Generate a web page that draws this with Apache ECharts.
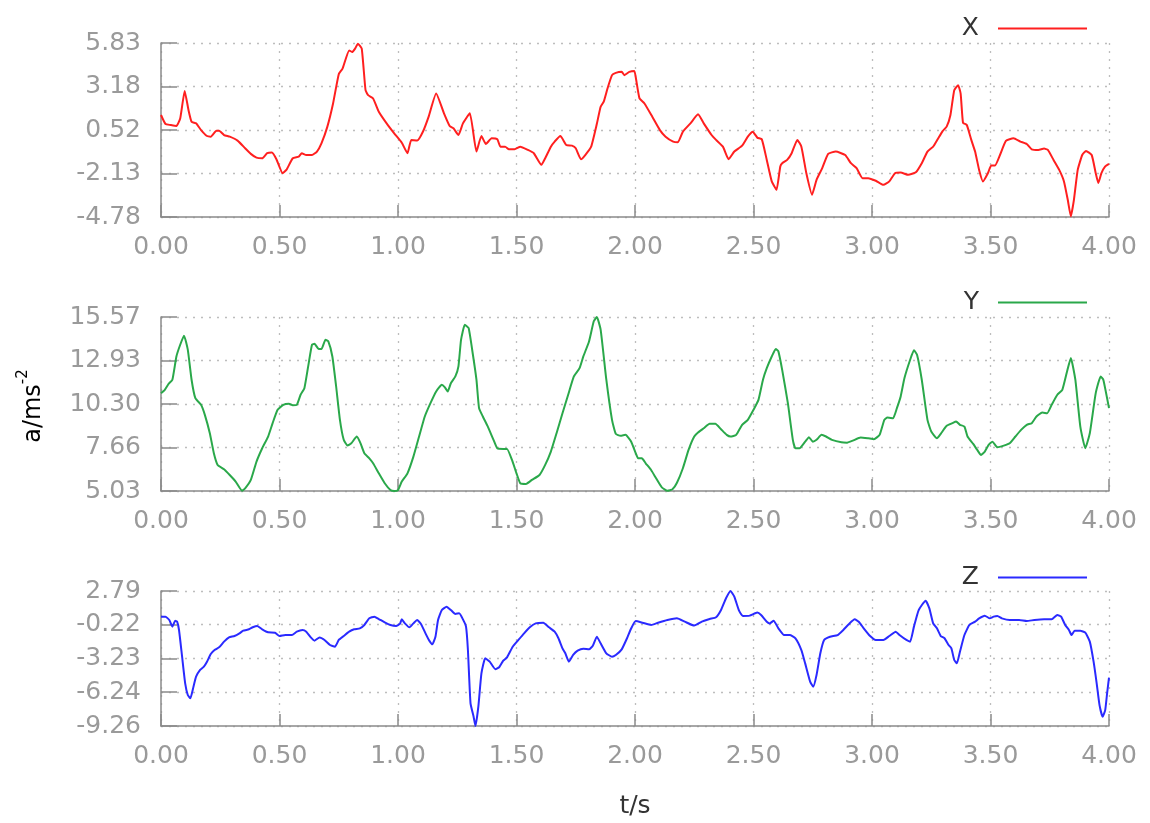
<!DOCTYPE html>
<html>
<head>
<meta charset="utf-8">
<script src="https://cdn.jsdelivr.net/npm/echarts@6/dist/echarts.min.js"></script>
<style>
  html, body { margin: 0; padding: 0; background: #fff; }
  #chart { width: 1150px; height: 823px; }
</style>
</head>
<body>
<div id="chart"></div>
<script>
// Acceleration components over time (t in seconds, a in m/s^2)
const tX = [0, 0.019, 0.04, 0.065, 0.081, 0.10, 0.116, 0.129, 0.148, 0.169, 0.194, 0.21, 0.234, 0.245, 0.266, 0.29, 0.323, 0.355, 0.379, 0.403, 0.427, 0.448, 0.468, 0.487, 0.513, 0.529, 0.556, 0.581, 0.594, 0.613, 0.637, 0.658, 0.677, 0.702, 0.726, 0.75, 0.766, 0.794, 0.806, 0.819, 0.831, 0.847, 0.863, 0.874, 0.895, 0.919, 0.952, 0.984, 1.016, 1.04, 1.056, 1.081, 1.105, 1.129, 1.161, 1.194, 1.218, 1.234, 1.255, 1.274, 1.303, 1.331, 1.352, 1.371, 1.395, 1.419, 1.432, 1.452, 1.468, 1.492, 1.516, 1.548, 1.573, 1.605, 1.621, 1.645, 1.661, 1.685, 1.71, 1.734, 1.75, 1.772, 1.79, 1.815, 1.839, 1.855, 1.868, 1.884, 1.903, 1.919, 1.944, 1.955, 1.976, 1.997, 2.003, 2.019, 2.04, 2.073, 2.105, 2.129, 2.161, 2.181, 2.202, 2.234, 2.266, 2.29, 2.323, 2.342, 2.371, 2.395, 2.419, 2.452, 2.476, 2.497, 2.516, 2.535, 2.556, 2.577, 2.597, 2.613, 2.621, 2.642, 2.661, 2.685, 2.702, 2.723, 2.747, 2.766, 2.79, 2.815, 2.847, 2.887, 2.911, 2.935, 2.96, 2.984, 3.016, 3.048, 3.073, 3.097, 3.121, 3.153, 3.185, 3.21, 3.234, 3.258, 3.277, 3.298, 3.315, 3.331, 3.347, 3.363, 3.374, 3.384, 3.4, 3.419, 3.435, 3.452, 3.468, 3.489, 3.503, 3.519, 3.54, 3.565, 3.597, 3.626, 3.653, 3.674, 3.702, 3.726, 3.742, 3.766, 3.79, 3.81, 3.826, 3.839, 3.852, 3.868, 3.887, 3.903, 3.927, 3.944, 3.955, 3.968, 3.984, 4.0];
const vX = [1.44, 0.89, 0.83, 0.77, 1.23, 2.91, 1.74, 1.03, 0.93, 0.52, 0.16, 0.12, 0.48, 0.48, 0.22, 0.12, -0.12, -0.59, -0.93, -1.16, -1.20, -0.89, -0.85, -1.26, -2.11, -1.91, -1.20, -1.10, -0.89, -1.0, -1.0, -0.79, -0.29, 0.73, 2.14, 3.93, 4.27, 5.38, 5.28, 5.49, 5.79, 5.49, 2.95, 2.65, 2.45, 1.64, 0.93, 0.32, -0.25, -0.89, -0.08, -0.12, 0.42, 1.33, 2.75, 1.54, 0.77, 0.63, 0.22, 0.93, 1.54, -0.79, 0.16, -0.33, 0.02, -0.04, -0.49, -0.49, -0.65, -0.65, -0.49, -0.69, -0.89, -1.6, -1.2, -0.49, -0.18, 0.16, -0.39, -0.43, -0.59, -1.26, -1.0, -0.49, 0.9, 1.94, 2.25, 3.06, 3.87, 4.01, 4.07, 3.87, 4.07, 4.13, 3.76, 2.45, 2.14, 1.33, 0.52, 0.12, -0.18, -0.22, 0.42, 0.93, 1.48, 0.93, 0.22, -0.08, -0.49, -1.26, -0.79, -0.43, 0.12, 0.42, 0.06, -0.04, -1.30, -2.61, -3.12, -1.70, -1.50, -1.30, -0.89, -0.08, -0.49, -2.11, -3.42, -2.51, -1.80, -0.93, -0.79, -1.0, -1.50, -1.80, -2.41, -2.41, -2.57, -2.82, -2.61, -2.11, -2.07, -2.21, -2.05, -1.50, -0.79, -0.49, -0.04, 0.46, 0.73, 1.44, 2.95, 3.26, 2.75, 0.97, 0.83, -0.08, -0.79, -1.91, -2.61, -2.11, -1.64, -1.64, -1.0, -0.14, 0.02, -0.18, -0.33, -0.65, -0.69, -0.61, -0.69, -1.30, -1.91, -2.61, -3.73, -4.74, -3.73, -1.91, -1.0, -0.75, -1.0, -2.11, -2.71, -2.11, -1.70, -1.54];

const tY = [0, 0.016, 0.032, 0.048, 0.065, 0.081, 0.097, 0.113, 0.129, 0.145, 0.169, 0.185, 0.206, 0.223, 0.239, 0.266, 0.29, 0.315, 0.342, 0.355, 0.379, 0.403, 0.427, 0.452, 0.471, 0.492, 0.516, 0.54, 0.556, 0.573, 0.589, 0.605, 0.621, 0.637, 0.648, 0.665, 0.677, 0.694, 0.706, 0.723, 0.739, 0.755, 0.771, 0.787, 0.803, 0.826, 0.842, 0.858, 0.879, 0.895, 0.919, 0.944, 0.968, 0.984, 1.0, 1.016, 1.04, 1.065, 1.089, 1.113, 1.137, 1.161, 1.185, 1.197, 1.21, 1.223, 1.242, 1.255, 1.266, 1.282, 1.298, 1.315, 1.331, 1.342, 1.358, 1.379, 1.403, 1.419, 1.444, 1.46, 1.481, 1.5, 1.516, 1.54, 1.565, 1.597, 1.621, 1.645, 1.669, 1.694, 1.718, 1.742, 1.766, 1.782, 1.806, 1.826, 1.839, 1.855, 1.879, 1.903, 1.919, 1.939, 1.96, 1.984, 2.003, 2.013, 2.029, 2.045, 2.068, 2.089, 2.113, 2.137, 2.158, 2.177, 2.202, 2.226, 2.25, 2.266, 2.29, 2.315, 2.339, 2.363, 2.387, 2.403, 2.427, 2.452, 2.476, 2.5, 2.521, 2.54, 2.556, 2.577, 2.594, 2.605, 2.621, 2.645, 2.666, 2.677, 2.694, 2.718, 2.734, 2.75, 2.766, 2.787, 2.806, 2.831, 2.871, 2.895, 2.919, 2.952, 2.984, 3.008, 3.032, 3.052, 3.065, 3.089, 3.105, 3.121, 3.137, 3.161, 3.177, 3.19, 3.21, 3.234, 3.25, 3.274, 3.29, 3.315, 3.339, 3.355, 3.371, 3.39, 3.403, 3.427, 3.444, 3.46, 3.476, 3.492, 3.508, 3.529, 3.556, 3.581, 3.605, 3.629, 3.653, 3.674, 3.694, 3.718, 3.739, 3.758, 3.782, 3.803, 3.823, 3.839, 3.858, 3.879, 3.9, 3.919, 3.944, 3.965, 3.976, 4.0];
const vY = [10.96, 11.16, 11.52, 11.77, 13.18, 13.89, 14.44, 13.59, 11.77, 10.65, 10.25, 9.64, 8.53, 7.32, 6.61, 6.35, 6.0, 5.6, 5.05, 5.19, 5.7, 6.81, 7.62, 8.33, 9.14, 9.95, 10.25, 10.31, 10.23, 10.25, 10.86, 11.26, 12.58, 13.89, 13.95, 13.63, 13.63, 14.19, 14.09, 13.18, 11.36, 9.34, 8.13, 7.78, 7.92, 8.33, 7.92, 7.32, 7.01, 6.71, 6.1, 5.5, 5.09, 5.03, 5.09, 5.6, 6.1, 7.11, 8.33, 9.54, 10.35, 11.06, 11.46, 11.32, 11.06, 11.56, 11.97, 12.58, 14.19, 15.1, 14.9, 13.39, 11.77, 10.05, 9.54, 8.93, 8.13, 7.62, 7.58, 7.58, 6.91, 6.1, 5.5, 5.46, 5.7, 6.0, 6.61, 7.42, 8.53, 9.74, 10.86, 11.97, 12.47, 13.18, 14.09, 15.31, 15.57, 14.8, 11.77, 9.34, 8.49, 8.37, 8.43, 8.02, 7.32, 7.01, 7.01, 6.71, 6.30, 5.8, 5.25, 5.05, 5.13, 5.53, 6.41, 7.52, 8.33, 8.57, 8.83, 9.1, 9.1, 8.77, 8.43, 8.33, 8.43, 9.04, 9.34, 9.95, 10.55, 11.77, 12.47, 13.18, 13.63, 13.49, 12.37, 10.35, 8.13, 7.62, 7.62, 8.02, 8.29, 8.02, 8.13, 8.43, 8.33, 8.13, 7.98, 7.96, 8.08, 8.27, 8.22, 8.17, 8.43, 9.34, 9.48, 9.44, 10.05, 10.76, 11.87, 12.98, 13.55, 13.28, 11.77, 9.34, 8.63, 8.22, 8.49, 8.98, 9.14, 9.24, 9.04, 8.93, 8.33, 7.88, 7.52, 7.21, 7.42, 7.82, 8.02, 7.68, 7.78, 7.92, 8.33, 8.73, 9.04, 9.14, 9.54, 9.78, 9.74, 10.25, 10.86, 11.16, 12.27, 13.08, 11.77, 8.93, 7.62, 8.53, 10.96, 11.97, 11.77, 10.05];

const tZ = [0, 0.019, 0.035, 0.048, 0.06, 0.068, 0.076, 0.089, 0.102, 0.113, 0.124, 0.137, 0.148, 0.165, 0.181, 0.194, 0.21, 0.226, 0.245, 0.266, 0.287, 0.31, 0.331, 0.347, 0.371, 0.387, 0.406, 0.427, 0.452, 0.481, 0.5, 0.524, 0.552, 0.573, 0.597, 0.613, 0.632, 0.648, 0.669, 0.69, 0.713, 0.734, 0.75, 0.771, 0.794, 0.815, 0.839, 0.858, 0.879, 0.9, 0.919, 0.944, 0.968, 0.992, 1.008, 1.016, 1.029, 1.048, 1.065, 1.081, 1.097, 1.116, 1.132, 1.145, 1.158, 1.169, 1.185, 1.205, 1.223, 1.242, 1.258, 1.274, 1.287, 1.295, 1.306, 1.319, 1.327, 1.339, 1.352, 1.368, 1.387, 1.411, 1.427, 1.444, 1.46, 1.484, 1.508, 1.532, 1.556, 1.581, 1.613, 1.637, 1.661, 1.677, 1.694, 1.706, 1.721, 1.739, 1.758, 1.782, 1.806, 1.822, 1.839, 1.855, 1.879, 1.903, 1.919, 1.944, 1.968, 1.984, 2.003, 2.032, 2.068, 2.097, 2.137, 2.177, 2.21, 2.25, 2.282, 2.315, 2.342, 2.363, 2.384, 2.403, 2.419, 2.439, 2.455, 2.484, 2.516, 2.532, 2.556, 2.569, 2.585, 2.605, 2.629, 2.653, 2.677, 2.702, 2.718, 2.739, 2.752, 2.766, 2.782, 2.798, 2.823, 2.855, 2.879, 2.903, 2.927, 2.944, 2.965, 2.992, 3.016, 3.048, 3.073, 3.1, 3.116, 3.145, 3.161, 3.177, 3.197, 3.226, 3.242, 3.258, 3.274, 3.29, 3.306, 3.323, 3.335, 3.347, 3.358, 3.371, 3.39, 3.411, 3.435, 3.452, 3.476, 3.497, 3.513, 3.529, 3.548, 3.581, 3.621, 3.653, 3.685, 3.726, 3.758, 3.782, 3.798, 3.815, 3.831, 3.842, 3.855, 3.879, 3.9, 3.919, 3.935, 3.948, 3.96, 3.973, 3.984, 3.992, 4.0];
const vZ = [0.50, 0.50, 0.20, -0.39, 0.14, 0.05, -0.69, -3.07, -5.45, -6.49, -6.79, -5.75, -4.86, -4.26, -3.96, -3.52, -2.83, -2.48, -2.24, -1.73, -1.35, -1.23, -0.99, -0.75, -0.63, -0.45, -0.33, -0.63, -0.90, -0.93, -1.23, -1.14, -1.14, -0.84, -0.69, -0.84, -1.35, -1.64, -1.35, -1.58, -2.03, -2.18, -1.58, -1.23, -0.84, -0.63, -0.54, -0.24, 0.35, 0.50, 0.29, -0.01, -0.24, -0.33, -0.15, 0.26, -0.10, -0.45, -0.10, 0.20, -0.15, -0.99, -1.64, -1.97, -1.29, 0.20, 1.09, 1.39, 1.09, 0.74, 0.80, 0.26, -0.39, -2.48, -7.24, -8.43, -9.26, -7.54, -4.56, -3.22, -3.52, -4.20, -4.02, -3.43, -3.13, -2.18, -1.58, -0.99, -0.45, -0.10, -0.04, -0.45, -0.84, -1.43, -2.33, -2.77, -3.52, -2.92, -2.54, -2.36, -2.42, -2.10, -1.29, -1.88, -2.77, -3.07, -2.92, -2.42, -1.35, -0.54, 0.11, -0.04, -0.24, -0.04, 0.20, 0.35, 0.05, -0.30, 0.05, 0.29, 0.44, 1.09, 2.14, 2.79, 2.28, 1.03, 0.56, 0.59, 0.86, 0.65, 0.05, -0.10, 0.14, -0.54, -1.14, -1.14, -1.43, -2.48, -3.67, -5.30, -5.75, -4.71, -2.77, -1.58, -1.29, -1.14, -0.69, -0.15, 0.26, 0.05, -0.54, -1.23, -1.58, -1.58, -1.23, -0.84, -1.14, -1.58, -1.73, -0.39, 1.09, 1.93, 1.24, -0.10, -0.54, -1.23, -1.43, -2.03, -2.33, -3.37, -3.67, -2.63, -1.14, -0.24, 0.05, 0.35, 0.59, 0.35, 0.50, 0.56, 0.35, 0.20, 0.20, 0.11, 0.20, 0.26, 0.26, 0.65, 0.50, -0.24, -0.69, -1.14, -0.75, -0.75, -0.93, -1.73, -3.52, -5.45, -7.39, -8.43, -7.84, -6.34, -4.94];

// Tick labels on the time axis and on each acceleration axis
const timeTicks = [0, 0.5, 1.0, 1.5, 2.0, 2.5, 3.0, 3.5, 4.0];
const ticksX = [-4.78, -2.13, 0.52, 3.18, 5.83];
const ticksY = [5.03, 7.66, 10.30, 12.93, 15.57];
const ticksZ = [-9.26, -6.24, -3.23, -0.22, 2.79];

const names = ['X', 'Y', 'Z'];
const colors = ['#ff1f1f', '#2aa84a', '#2a2aff'];

const FONT = 'DejaVu Sans';
const axisGray = '#8a8a8a';
const labelGray = '#9a9a9a';
const gridDots = { type: [2, 6], color: '#bdbdbd', width: 1.3 };

function pairs(t, v) {
  return t.map((x, i) => [x, v[i]]);
}

const grids = [
  { left: 161, right: 41, top: 43, height: 174 },
  { left: 161, right: 41, top: 317, height: 174 },
  { left: 161, right: 41, top: 591, height: 135 }
];

const yTickSets = [ticksX, ticksY, ticksZ];
const seriesData = [pairs(tX, vX), pairs(tY, vY), pairs(tZ, vZ)];

const xAxes = grids.map((g, i) => ({
  type: 'value',
  gridIndex: i,
  min: timeTicks[0],
  max: timeTicks[timeTicks.length - 1],
  interval: 0.5,
  name: i === 2 ? 't/s' : '',
  nameLocation: 'middle',
  nameGap: 68,
  nameTextStyle: { fontFamily: FONT, fontSize: 25, color: '#333' },
  axisLine: { show: true, onZero: false, lineStyle: { color: axisGray, width: 1.5 } },
  axisTick: { show: true, inside: true, length: 12, lineStyle: { color: axisGray, width: 1.5 } },
  axisLabel: {
    show: true, margin: 18, color: labelGray, fontFamily: FONT, fontSize: 25,
    formatter: v => v.toFixed(2)
  },
  splitLine: { show: true, lineStyle: gridDots }
}));

const yAxes = grids.map((g, i) => {
  const ticks = yTickSets[i];
  return {
    type: 'value',
    gridIndex: i,
    min: ticks[0],
    max: ticks[ticks.length - 1],
    axisLine: { show: true, onZero: false, lineStyle: { color: axisGray, width: 1.5 } },
    axisTick: { show: true, inside: true, length: 16, customValues: ticks, lineStyle: { color: axisGray, width: 1.5 } },
    axisLabel: {
      show: true, margin: 20, color: labelGray, fontFamily: FONT, fontSize: 25,
      customValues: ticks,
      formatter: v => v.toFixed(2)
    },
    splitLine: { show: true, lineStyle: gridDots }
  };
});

const series = names.map((n, i) => ({
  name: n,
  type: 'line',
  xAxisIndex: i,
  yAxisIndex: i,
  data: seriesData[i],
  showSymbol: false,
  smooth: 0.15,
  lineStyle: { color: colors[i], width: 2 },
  itemStyle: { color: colors[i] },
  animation: false
}));

const legendTops = [11, 285, 560];
const legends = names.map((n, i) => ({
  data: [n],
  right: 58,
  top: legendTops[i],
  orient: 'horizontal',
  align: 'right',
  icon: 'rect',
  itemWidth: 89,
  itemHeight: 2,
  selectedMode: false,
  textStyle: { fontFamily: FONT, fontSize: 25, color: '#333', padding: [0, 14, 0, 0] }
}));

const chart = echarts.init(document.getElementById('chart'), null, { renderer: 'canvas' });
chart.setOption({
  backgroundColor: '#ffffff',
  animation: false,
  grid: grids,
  xAxis: xAxes,
  yAxis: yAxes,
  legend: legends,
  series: series,
  graphic: [{
    type: 'text',
    x: 31,
    y: 406,
    rotation: Math.PI / 2,
    style: {
      text: '{a|a/ms}{s|-2}',
      align: 'center',
      verticalAlign: 'middle',
      rich: {
        a: { fontFamily: FONT, fontSize: 24, color: '#333', lineHeight: 30, verticalAlign: 'bottom' },
        s: { fontFamily: FONT, fontSize: 15, color: '#333', lineHeight: 30, verticalAlign: 'top', padding: [0, 0, 14, 0] }
      }
    }
  }]
});
</script>
</body>
</html>
